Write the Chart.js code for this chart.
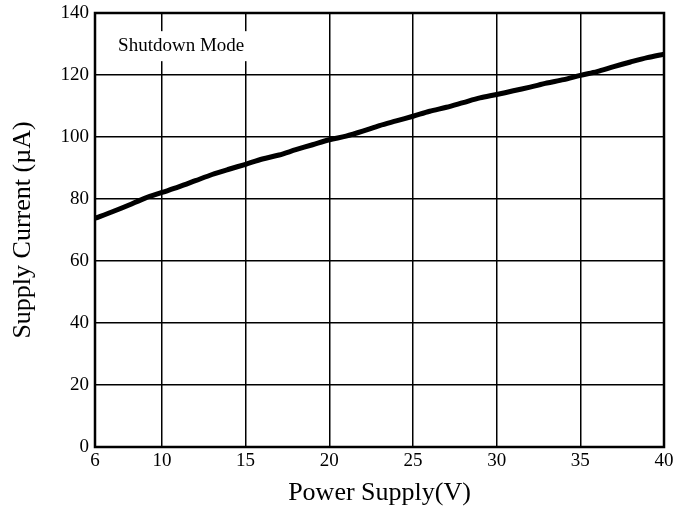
<!DOCTYPE html>
<html>
<head>
<meta charset="utf-8">
<script src="https://cdn.jsdelivr.net/npm/chart.js@4"></script>
<style>
html,body{margin:0;padding:0;background:#fff;}
#wrap{width:689px;height:529px;}
</style>
</head>
<body>
<div id="wrap"><canvas id="c" width="689" height="529"></canvas></div>
<script>
const voltage = [6,7,8,9,10,11,12,13,14,15,16,17,18,19,20,21,22,23,24,25,26,27,28,29,30,31,32,33,34,35,36,37,38,39,40];
const current = [73.8,75.8,78,80.3,82.1,83.9,85.9,87.9,89.6,91.2,92.9,94.2,95.9,97.5,99.1,100.3,101.9,103.7,105.2,106.7,108.3,109.6,111.1,112.6,113.7,114.9,116.1,117.4,118.5,119.9,121.1,122.7,124.2,125.6,126.7];
const xTicks = [6,10,15,20,25,30,35,40];
const yTicks = [0,20,40,60,80,100,120,140];
const annotationText = "Shutdown Mode";
const xTitle = "Power Supply(V)";
const yTitle = "Supply Current (\u00B5A)";

const FONT = "'Liberation Serif', 'Times New Roman', serif";

const framePlugin = {
  id: 'frame',
  beforeDatasetsDraw(chart) {
    const {ctx} = chart;
    ctx.save();
    const x = chart.scales.x.getPixelForValue(7.38);
    const y = chart.scales.y.getPixelForValue(129.3);
    ctx.font = "19px " + FONT;
    const w = ctx.measureText(annotationText).width;
    ctx.fillStyle = '#fff';
    ctx.fillRect(x - 10, y - 15, w + 20, 30);
    ctx.fillStyle = '#000';
    ctx.textBaseline = 'middle';
    ctx.textAlign = 'left';
    ctx.fillText(annotationText, x, y);
    ctx.restore();
  },
  afterDraw(chart) {
    const {ctx, chartArea: a} = chart;
    ctx.save();
    ctx.strokeStyle = '#000';
    ctx.lineWidth = 2.5;
    ctx.strokeRect(a.left, a.top, a.right - a.left, a.bottom - a.top);
    ctx.restore();
  }
};

new Chart(document.getElementById('c'), {
  type: 'line',
  data: {
    datasets: [{
      data: voltage.map((v, i) => ({x: v, y: current[i]})),
      borderColor: '#000',
      borderWidth: 5,
      pointRadius: 0,
      tension: 0.3,
      fill: false
    }]
  },
  options: {
    responsive: false,
    animation: false,
    layout: {padding: {top: 13, right: 25, left: 0, bottom: 0}},
    plugins: {legend: {display: false}, tooltip: {enabled: false}},
    scales: {
      x: {
        type: 'linear',
        min: 6, max: 40,
        afterBuildTicks(s) { s.ticks = xTicks.map(v => ({value: v})); },
        afterFit(s) { s.height = 82; s.paddingLeft = 0; s.paddingRight = 0; },
        grid: {color: '#000', lineWidth: 1.5, drawTicks: false},
        border: {display: false},
        ticks: {color: '#000', font: {family: FONT, size: 19}, padding: 3, maxRotation: 0, autoSkip: false},
        title: {display: true, text: xTitle, color: '#000', font: {family: FONT, size: 26}, padding: {top: 0, bottom: 20}}
      },
      y: {
        min: 0, max: 140,
        afterBuildTicks(s) { s.ticks = yTicks.map(v => ({value: v})); },
        afterFit(s) { s.width = 95; s.paddingTop = 0; s.paddingBottom = 0; },
        grid: {color: '#000', lineWidth: 1.5, drawTicks: false},
        border: {display: false},
        ticks: {color: '#000', font: {family: FONT, size: 19}, padding: 6},
        title: {display: true, text: yTitle, color: '#000', font: {family: FONT, size: 26}, padding: {top: 8, bottom: 0}}
      }
    }
  },
  plugins: [framePlugin]
});
</script>
</body>
</html>
